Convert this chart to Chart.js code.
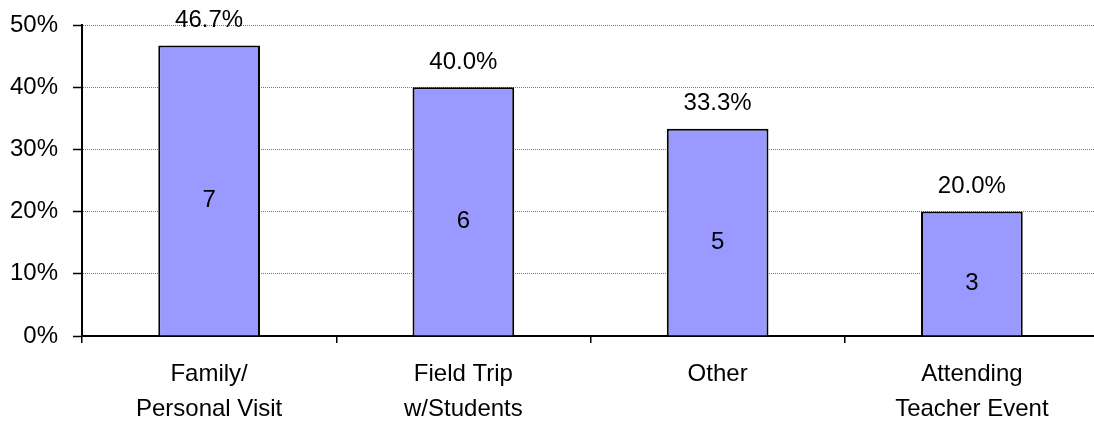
<!DOCTYPE html>
<html>
<head>
<meta charset="utf-8">
<script src="https://cdn.jsdelivr.net/npm/chart.js@4"></script>
<style>
html,body{margin:0;padding:0;background:#fff;overflow:hidden;}
#wrap{width:1100px;height:423px;position:relative;}
</style>
</head>
<body>
<div id="wrap"><canvas id="c" width="1100" height="423"></canvas></div>
<script>
const categories = [['Family/','Personal Visit'],['Field Trip','w/Students'],['Other'],['Attending','Teacher Event']];
const percentValues = [46.7, 40.0, 33.3, 20.0];
const countValues = [7, 6, 5, 3];
const yTicks = [0, 10, 20, 30, 40, 50];

const FONT = 'Liberation Sans, Arial, sans-serif';

const labelPlugin = {
  id: 'barLabels',
  afterDatasetsDraw(chart) {
    const ctx = chart.ctx;
    const meta = chart.getDatasetMeta(0);
    ctx.save();
    ctx.font = '24px ' + FONT;
    ctx.fillStyle = '#000';
    ctx.textAlign = 'center';
    ctx.textBaseline = 'middle';
    meta.data.forEach((bar, i) => {
      ctx.fillText(percentValues[i].toFixed(1) + '%', bar.x, bar.y - 25);
      ctx.fillText(String(countValues[i]), bar.x, (bar.y + bar.base) / 2 + 10);
    });
    ctx.restore();
  }
};

new Chart(document.getElementById('c'), {
  type: 'bar',
  data: {
    labels: categories,
    datasets: [{
      data: percentValues,
      backgroundColor: '#9999FF',
      borderColor: '#000',
      borderWidth: 2,
      categoryPercentage: 0.4,
      barPercentage: 1.0
    }]
  },
  options: {
    responsive: false,
    animation: false,
    events: [],
    layout: { padding: { top: 25, right: 1, left: 0, bottom: 0 } },
    plugins: { legend: { display: false }, tooltip: { enabled: false } },
    scales: {
      x: {
        offset: true,
        grid: { offset: true, drawOnChartArea: false, drawTicks: true, tickLength: 7, tickColor: '#000', color: '#000', lineWidth: 1.5 },
        border: { display: true, color: '#000', width: 2 },
        ticks: { color: '#000', font: { family: FONT, size: 24, lineHeight: 1.46 }, padding: 14, maxRotation: 0, autoSkip: false },
        afterFit(s) { s.height = 87; s.paddingLeft = 0; s.paddingRight = 0; }
      },
      y: {
        min: 0, max: 50,
        afterBuildTicks(s) { s.ticks = yTicks.map(v => ({ value: v })); },
        grid: { color: '#777', lineWidth: 1, tickLength: 9, tickColor: '#000', tickWidth: 1.5, tickBorderDash: [] },
        border: { display: true, color: '#000', width: 2, dash: [1, 1] },
        ticks: { color: '#000', font: { family: FONT, size: 24 }, padding: 15, callback: v => v + '%' },
        afterFit(s) { s.width = 82; s.paddingTop = 0; s.paddingBottom = 0; }
      }
    }
  },
  plugins: [labelPlugin]
});
</script>
</body>
</html>
